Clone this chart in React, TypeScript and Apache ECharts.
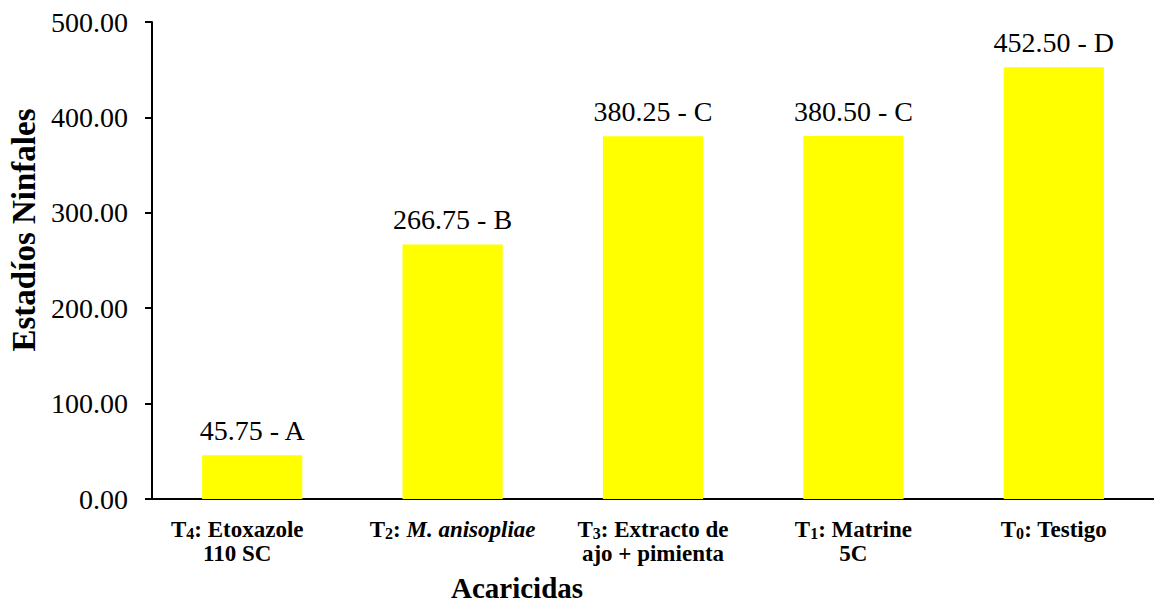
import React, { useEffect, useRef } from "react";
import * as echarts from "echarts";

const categories = [
  "T4: Etoxazole 110 SC",
  "T2: M. anisopliae",
  "T3: Extracto de ajo + pimienta",
  "T1: Matrine 5C",
  "T0: Testigo",
];
const richLabels = [
  "{t|T}{s|4}{t|: Etoxazole}\n{t|110 SC}",
  "{t|T}{s|2}{t|: }{i|M. anisopliae}",
  "{t|T}{s|3}{t|: Extracto de}\n{t|ajo + pimienta}",
  "{t|T}{s|1}{t|: Matrine}\n{t|5C}",
  "{t|T}{s|0}{t|: Testigo}",
];
const values = [45.75, 266.75, 380.25, 380.5, 452.5];
const letters = ["A", "B", "C", "C", "D"];
const yTicks = { min: 0, max: 500, interval: 100 };
const xTitle = "Acaricidas";
const yTitle = "Estadíos Ninfales";

const FONT = "'Liberation Serif', 'Times New Roman', serif";

export default function App() {
  const ref = useRef<HTMLDivElement>(null);
  useEffect(() => {
    if (!ref.current) return;
    const chart = echarts.init(ref.current, null, { renderer: "svg" });
    const catData = categories.map((c, i) =>
      i === 0 ? { value: c, textStyle: { padding: [0, 30, 0, 0] } } : { value: c }
    );
    chart.setOption({
      animation: false,
      backgroundColor: "#ffffff",
      grid: { left: 152, right: -6, top: 22, bottom: 106, containLabel: false },
      xAxis: {
        type: "category",
        data: catData,
        axisLine: { show: true, lineStyle: { color: "#000", width: 2 } },
        axisTick: { show: false },
        axisLabel: {
          interval: 0,
          margin: 18,
          formatter: (_v: string, i: number) => richLabels[i],
          rich: {
            t: { fontFamily: FONT, fontWeight: "bold", fontSize: 23, color: "#000", lineHeight: 24 },
            i: { fontFamily: FONT, fontWeight: "bold", fontStyle: "italic", fontSize: 23, color: "#000", lineHeight: 24 },
            s: { fontFamily: FONT, fontWeight: "bold", fontSize: 16, color: "#000", lineHeight: 17, verticalAlign: "bottom" },
          },
        },
      },
      yAxis: {
        type: "value",
        min: yTicks.min,
        max: yTicks.max,
        interval: yTicks.interval,
        axisLine: { show: true, lineStyle: { color: "#000", width: 2 } },
        axisTick: { show: true, inside: false, length: 7, lineStyle: { color: "#000", width: 2 } },
        splitLine: { show: false },
        axisLabel: {
          margin: 24,
          fontFamily: FONT,
          fontSize: 28,
          color: "#000",
          formatter: (v: number) => v.toFixed(2),
        },
      },
      series: [
        {
          type: "bar",
          data: values,
          barWidth: "50%",
          itemStyle: { color: "#FFFF00" },
          label: {
            show: true,
            position: "top",
            distance: 11,
            fontFamily: FONT,
            fontSize: 28,
            color: "#000",
            formatter: (p: any) => `${p.value.toFixed(2)} - ${letters[p.dataIndex]}`,
          },
        },
      ],
      graphic: [
        {
          type: "text",
          x: 517,
          y: 588,
          style: {
            text: xTitle,
            fontFamily: FONT,
            fontWeight: "bold",
            fontSize: 29,
            fill: "#000",
            align: "center",
            verticalAlign: "middle",
          },
        },
        {
          type: "text",
          x: 24,
          y: 230,
          rotation: Math.PI / 2,
          style: {
            text: yTitle,
            fontFamily: FONT,
            fontWeight: "bold",
            fontSize: 33,
            fill: "#000",
            align: "center",
            verticalAlign: "middle",
          },
        },
      ],
    });
    return () => chart.dispose();
  }, []);
  return (
    <div
      ref={ref}
      style={{ position: "fixed", left: 0, top: 0, width: 1154, height: 605 }}
    />
  );
}
